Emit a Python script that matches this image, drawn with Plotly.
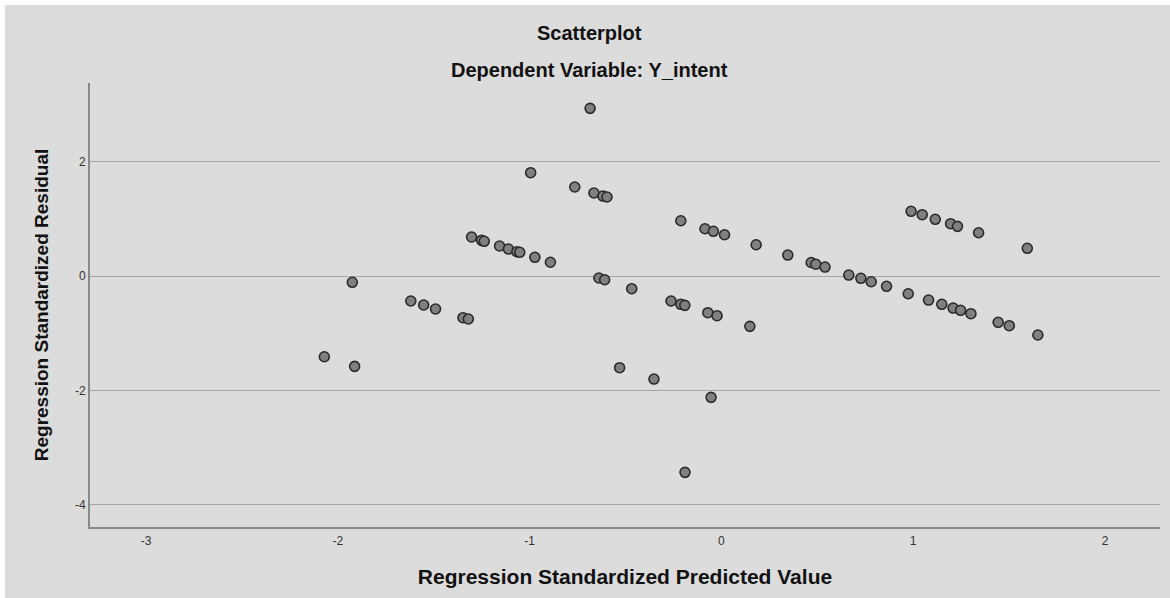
import plotly.graph_objects as go

# Regression standardized predicted values (x) and standardized residuals (y)
pred_values = [
    -2.071, -1.925, -1.913, -1.620, -1.553, -1.491, -1.348, -1.320, -1.303, -1.251,
    -1.237, -1.157, -1.111, -1.067, -1.052, -0.995, -0.973, -0.892, -0.765, -0.685,
    -0.665, -0.618, -0.597, -0.639, -0.609, -0.531, -0.468, -0.352, -0.263, -0.212,
    -0.191, -0.212, -0.190, -0.086, -0.071, -0.054, -0.042, -0.023, 0.016, 0.148,
    0.181, 0.346, 0.468, 0.492, 0.540, 0.664, 0.727, 0.781, 0.861, 0.974,
    0.989, 1.047, 1.080, 1.115, 1.149, 1.195, 1.208, 1.231, 1.247, 1.301,
    1.341, 1.443, 1.501, 1.595, 1.650,
]
residuals = [
    -1.412, -0.110, -1.580, -0.437, -0.507, -0.577, -0.729, -0.752, 0.682, 0.624,
    0.607, 0.525, 0.472, 0.425, 0.415, 1.807, 0.327, 0.241, 1.557, 2.933,
    1.452, 1.399, 1.382, -0.035, -0.065, -1.604, -0.222, -1.802, -0.437, -0.495,
    -0.513, 0.967, -3.434, 0.827, -0.642, -2.122, 0.782, -0.694, 0.722, -0.880,
    0.547, 0.367, 0.236, 0.206, 0.157, 0.017, -0.040, -0.100, -0.180, -0.310,
    1.132, 1.072, -0.420, 0.992, -0.495, 0.915, -0.560, 0.869, -0.600, -0.659,
    0.757, -0.810, -0.869, 0.485, -1.032,
]

x_ticks = [-3, -2, -1, 0, 1, 2]
y_ticks = [2, 0, -2, -4]

title_main = "Scatterplot"
title_sub = "Dependent Variable: Y_intent"
x_title = "Regression Standardized Predicted Value"
y_title = "Regression Standardized Residual"

BG = "#dcdcdc"
FONT = "Liberation Sans, Arial, sans-serif"

fig = go.Figure()
fig.add_trace(go.Scatter(
    x=pred_values,
    y=residuals,
    mode="markers",
    marker=dict(size=10, color="#808080", line=dict(color="#2a2a2a", width=1.6)),
    showlegend=False,
    hoverinfo="x+y",
))

fig.update_layout(
    width=1170,
    height=598,
    margin=dict(l=90, r=10, t=83, b=71, pad=0),
    paper_bgcolor="white",
    plot_bgcolor=BG,
    font=dict(family=FONT, color="#222222"),
    shapes=[
        # grey chart frame behind everything, leaving a thin white edge top/left
        dict(type="rect", xref="paper", yref="paper",
             x0=-0.0794, x1=1.2, y0=-0.4, y1=1.1757,
             fillcolor=BG, line=dict(width=0), layer="below"),
    ],
    annotations=[
        dict(text="<b>" + title_main + "</b>", xref="paper", yref="paper",
             x=(589 - 90) / 1070, y=(527 - 33) / 444, xanchor="center", yanchor="middle",
             showarrow=False, font=dict(family=FONT, size=20, color="#111111")),
        dict(text="<b>" + title_sub + "</b>", xref="paper", yref="paper",
             x=(589 - 90) / 1070, y=(527 - 70) / 444, xanchor="center", yanchor="middle",
             showarrow=False, font=dict(family=FONT, size=20, color="#111111")),
    ],
    xaxis=dict(
        range=[-3.293, 2.287],
        tickvals=x_ticks,
        ticktext=[str(v) for v in x_ticks],
        showgrid=False,
        zeroline=False,
        showline=True,
        linecolor="#8a8a8a",
        linewidth=2,
        ticks="outside",
        ticklen=2,
        tickcolor="rgba(0,0,0,0)",
        tickfont=dict(family=FONT, size=12, color="#333333"),
        title=dict(text="<b>" + x_title + "</b>", standoff=22,
                   font=dict(family=FONT, size=21, color="#111111")),
    ),
    yaxis=dict(
        range=[-4.39, 3.376],
        tickvals=y_ticks,
        ticktext=[str(v) for v in y_ticks],
        showgrid=True,
        gridcolor="#a6a6a6",
        gridwidth=1,
        zeroline=False,
        showline=True,
        linecolor="#8a8a8a",
        linewidth=2,
        ticks="",
        tickfont=dict(family=FONT, size=12, color="#333333"),
        title=dict(text="<b>" + y_title + "</b>", standoff=21,
                   font=dict(family=FONT, size=19, color="#111111")),
    ),
)

fig.write_html("out.html")
